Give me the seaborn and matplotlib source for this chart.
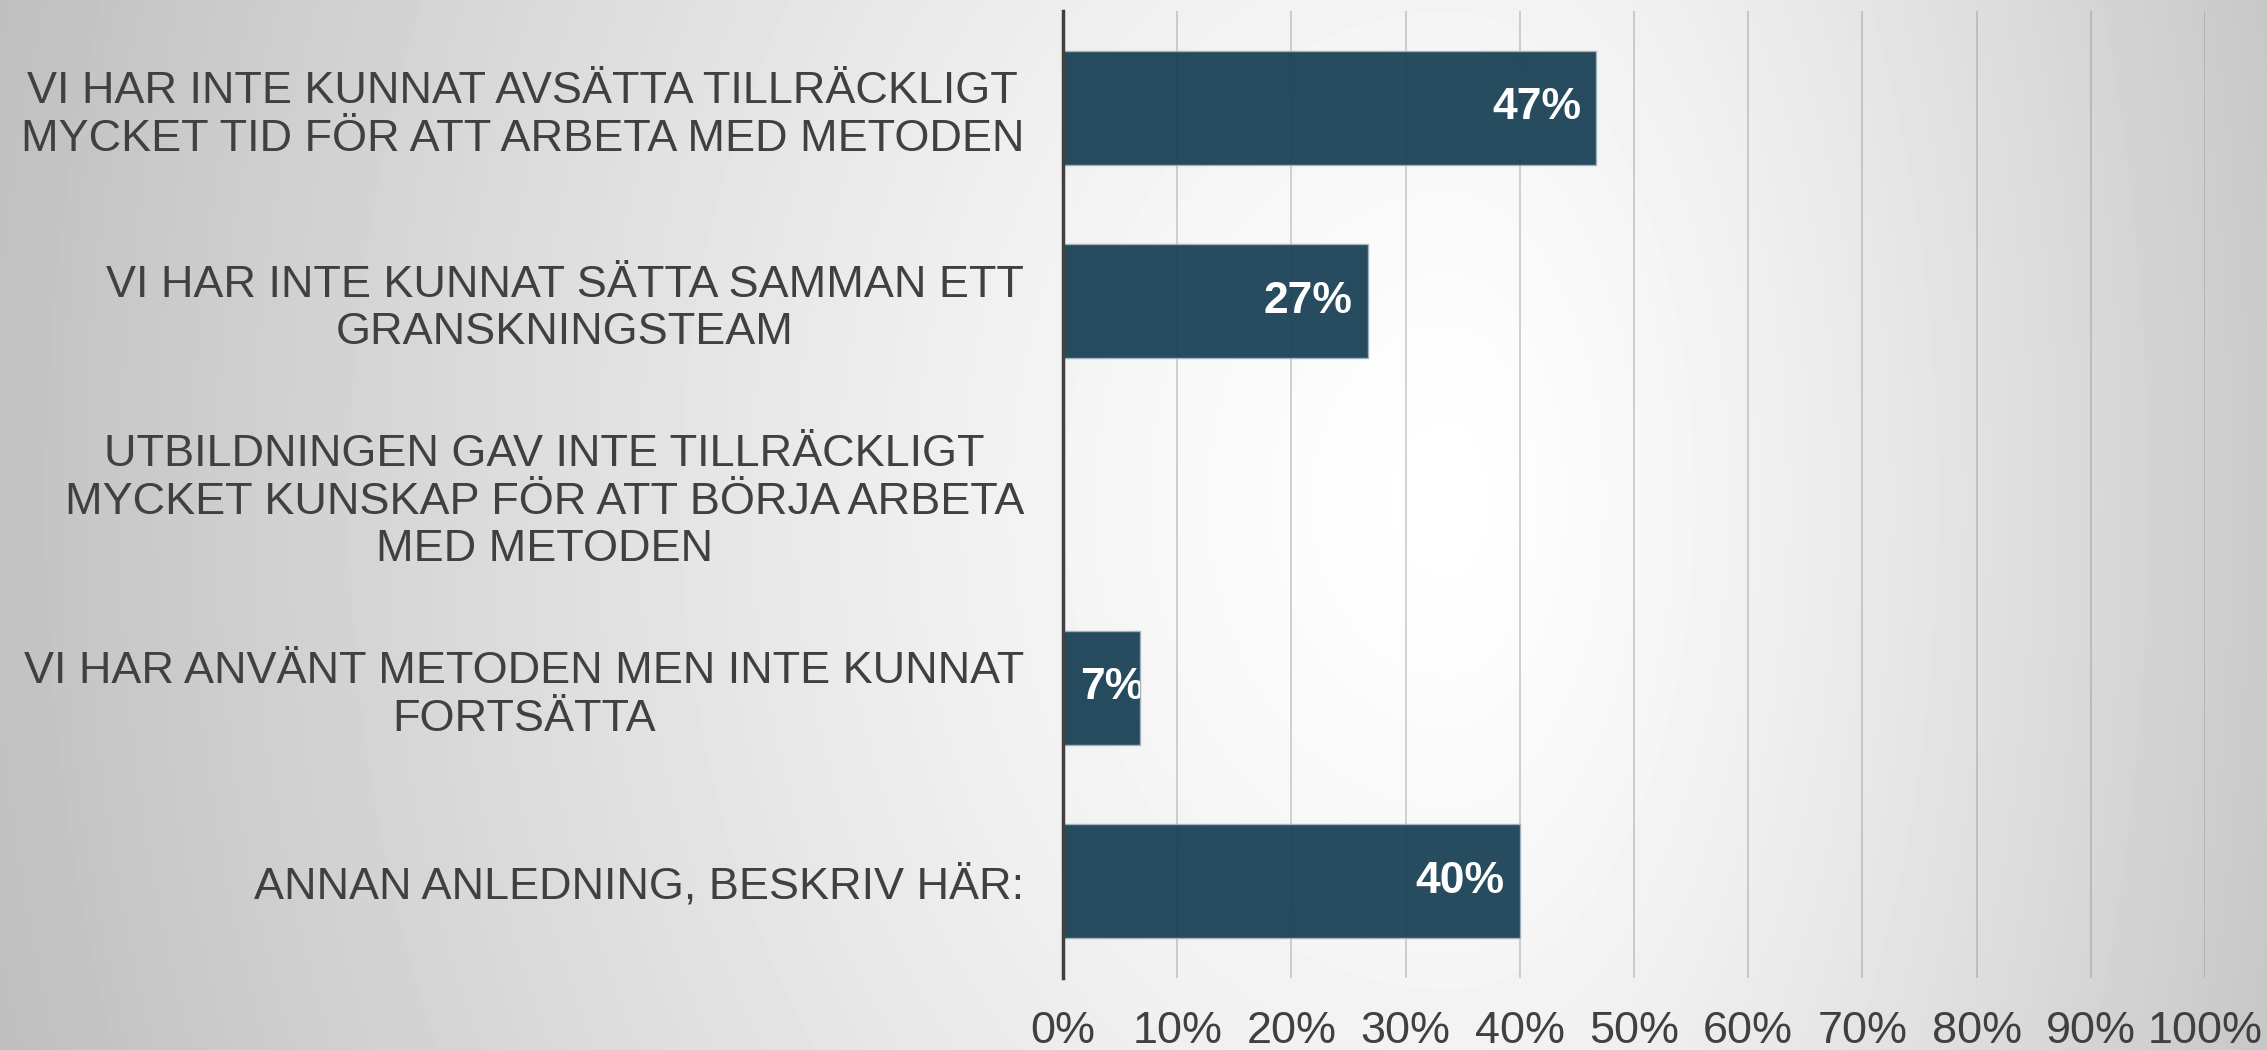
import matplotlib
matplotlib.use("Agg")
import matplotlib.pyplot as plt
import seaborn as sns
import pandas as pd
import numpy as np
from matplotlib.ticker import FuncFormatter

# data
categories = [
    "VI HAR INTE KUNNAT AVSÄTTA TILLRÄCKLIGT\nMYCKET TID FÖR ATT ARBETA MED METODEN",
    "VI HAR INTE KUNNAT SÄTTA SAMMAN ETT\nGRANSKNINGSTEAM",
    "UTBILDNINGEN GAV INTE TILLRÄCKLIGT\nMYCKET KUNSKAP FÖR ATT BÖRJA ARBETA\nMED METODEN",
    "VI HAR ANVÄNT METODEN MEN INTE KUNNAT\nFORTSÄTTA",
    "ANNAN ANLEDNING, BESKRIV HÄR:",
]
shares = [46.7, 26.7, 0.0, 6.7, 40.0]
x_ticks = [0, 10, 20, 30, 40, 50, 60, 70, 80, 90, 100]

BAR = "#173E53"
TEXT = "#404040"

df = pd.DataFrame({"reason": categories, "share": shares})

sns.set_theme(style="white")
plt.rcParams["font.family"] = ["Liberation Sans", "DejaVu Sans"]

W, H = 2267, 1050
fig = plt.figure(figsize=(W / 100, H / 100), dpi=100)

# grey background with a soft white glow right of centre
bg = fig.add_axes([0, 0, 1, 1], zorder=-10)
xx, yy = np.meshgrid(np.arange(W), np.arange(H))
cx, cy = 1450.0, 500.0
rx = np.where(xx < cx, 1500.0, 950.0)
d = np.sqrt(((xx - cx) / rx) ** 2 + ((yy - cy) / 1900.0) ** 2)
g = 255 - 64 * np.clip(d, 0, 1.2) ** 1.3
bg.imshow(g, cmap="gray", vmin=0, vmax=255, aspect="auto", interpolation="bilinear")
bg.set_axis_off()

ax = fig.add_axes([1063 / W, 1 - 978 / H, (2205 - 1063) / W, (978 - 11) / H])
ax.patch.set_alpha(0)

sns.barplot(data=df, y="reason", x="share", orient="h", color=BAR, width=0.59,
            saturation=1, alpha=0.93, edgecolor="#A3B4C1", linewidth=1.0,
            ax=ax, zorder=3)

ax.set_xlim(0, 100)
ax.set_ylim(4.5, -0.5)
ax.set_xticks(x_ticks)
ax.xaxis.set_major_formatter(FuncFormatter(lambda v, p: f"{v:.0f}%"))
ax.grid(axis="x", color="#8c8c8c", alpha=0.45, linewidth=1.2, zorder=0)
ax.grid(axis="y", visible=False)
ax.set_axisbelow(True)
ax.set_xlabel("")
ax.set_ylabel("")

for s in ["top", "right", "bottom"]:
    ax.spines[s].set_visible(False)
ax.spines["left"].set_color(TEXT)
ax.spines["left"].set_linewidth(2.5)
ax.spines["left"].set_zorder(5)

ax.tick_params(axis="x", length=0, pad=24, labelsize=32.4, labelcolor=TEXT)
ax.tick_params(axis="y", length=0, pad=28, labelsize=32.4, labelcolor=TEXT)
for lbl in ax.get_yticklabels():
    lbl.set_multialignment("center")

# value labels inside bar ends
for patch, v in zip(ax.patches, shares):
    if v <= 0:
        continue
    yc = patch.get_y() + patch.get_height() / 2
    if v < 10:
        t = ax.annotate(f"{v:.0f}%", (0, yc), xytext=(12, 0), textcoords="offset points",
                        ha="left", va="center", color="white", fontsize=32,
                        fontweight="bold", zorder=6)
    else:
        t = ax.annotate(f"{v:.0f}%", (v, yc), xytext=(-11, 0), textcoords="offset points",
                        ha="right", va="center", color="white", fontsize=32,
                        fontweight="bold", zorder=6)
    t.set_clip_path(patch)

fig.savefig("out.png", dpi=100)
